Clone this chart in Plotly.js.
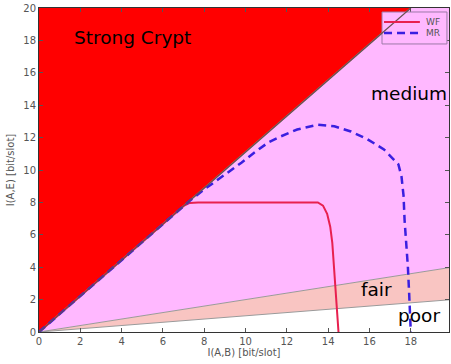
<!DOCTYPE html>
<html>
<head>
<meta charset="utf-8">
<script src="https://cdn.plot.ly/plotly-3.0.1.min.js"></script>
<style>
  html, body { margin: 0; padding: 0; background: #ffffff; }
  #chart { width: 451px; height: 364px; }
</style>
</head>
<body>
<div id="chart"></div>
<script>
// Secrecy regions in the I(A,B) / I(A,E) plane (polygon vertices)
const strongX = [0, 18, 0];
const strongY = [0, 20, 20];
const mediumX = [0, 18, 20, 20, 0];
const mediumY = [0, 20, 20, 4, 0];
const fairX = [0, 20, 20, 0];
const fairY = [0, 4, 2, 0];

// Region boundary lines
const diagX = [0, 18];
const diagY = [0, 20];
const fairUpperX = [0, 20];
const fairUpperY = [0, 4];
const fairLowerX = [0, 20];
const fairLowerY = [0, 2];

// WF curve
const wfX = [0, 7.0, 7.3, 7.7, 13.5, 13.75, 13.95, 14.1, 14.2, 14.5];
const wfY = [0, 7.78, 7.97, 8.0, 8.0, 7.8, 7.3, 6.5, 5.5, 0];

// MR curve
const mrX = [0, 7.3, 8.0, 8.9, 9.8, 10.4, 11.1, 11.7, 12.5, 13.5, 14.3, 15.1, 15.9, 16.7, 17.4, 17.55, 17.65, 17.7, 17.78, 17.86, 17.92, 18.0];
const mrY = [0, 8.1, 8.8, 9.6, 10.45, 11.05, 11.7, 12.07, 12.5, 12.8, 12.7, 12.38, 11.9, 11.27, 10.35, 9.6, 8.4, 6.9, 5.5, 4.0, 2.4, 0];

// Region labels
const labelText = ['Strong Crypt', 'medium', 'fair', 'poor'];
const labelX = [4.55, 17.9, 16.35, 18.4];
const labelY = [18.2, 14.7, 2.6, 1.0];

// Legend entries
const legendNames = ['WF', 'MR'];

const tickVals = [0, 2, 4, 6, 8, 10, 12, 14, 16, 18, 20];

const RED = '#ff0000';
const PINK = '#ffb8ff';
const SALMON = '#f9c5c2';
const EDGE = '#9a9a9a';
const WF_COLOR = '#e8204f';
const MR_COLOR = '#3a1fe0';
const FONT = 'DejaVu Sans, sans-serif';

const wfLine = { color: WF_COLOR, width: 2 };
const mrLine = { color: MR_COLOR, width: 2.5, dash: '8px,5px' };

const traces = [
  { x: mediumX, y: mediumY, type: 'scatter', mode: 'lines', fill: 'toself',
    fillcolor: PINK, line: { width: 0 }, hoverinfo: 'skip' },
  { x: fairX, y: fairY, type: 'scatter', mode: 'lines', fill: 'toself',
    fillcolor: SALMON, line: { width: 0 }, hoverinfo: 'skip' },
  { x: strongX, y: strongY, type: 'scatter', mode: 'lines', fill: 'toself',
    fillcolor: RED, line: { width: 0 }, hoverinfo: 'skip' },
  { x: diagX, y: diagY, type: 'scatter', mode: 'lines',
    line: { color: '#a08080', width: 1.5 }, hoverinfo: 'skip' },
  { x: fairUpperX, y: fairUpperY, type: 'scatter', mode: 'lines',
    line: { color: EDGE, width: 1 }, hoverinfo: 'skip' },
  { x: fairLowerX, y: fairLowerY, type: 'scatter', mode: 'lines',
    line: { color: EDGE, width: 1 }, hoverinfo: 'skip' },
  { x: wfX, y: wfY, type: 'scatter', mode: 'lines', name: legendNames[0], line: wfLine },
  { x: mrX, y: mrY, type: 'scatter', mode: 'lines', name: legendNames[1], line: mrLine }
];

const annotations = labelText.map((t, i) => ({
  x: labelX[i], y: labelY[i], xref: 'x', yref: 'y', text: t, showarrow: false,
  font: { family: FONT, size: 18.5, color: '#000000' }
}));

// Compact legend box drawn in paper coordinates
const legBox = { x0: 0.8366, x1: 0.995, y0: 0.889, y1: 0.9877 };
const legRowY = [0.9568, 0.9228];
const legLineX = [0.8415, 0.929];
const legTextX = 0.939;
const legLines = [wfLine, mrLine];

const shapes = [
  { type: 'rect', xref: 'paper', yref: 'paper', layer: 'above',
    x0: legBox.x0, x1: legBox.x1, y0: legBox.y0, y1: legBox.y1,
    fillcolor: PINK, line: { color: '#9c7aa8', width: 1 } },
  // boundary line stays visible across the legend box
  { type: 'line', xref: 'x', yref: 'y', layer: 'above',
    x0: diagX[0], y0: diagY[0], x1: diagX[1], y1: diagY[1],
    line: { color: '#6a5050', width: 1.2 } }
];
legendNames.forEach((n, i) => {
  shapes.push({ type: 'line', xref: 'paper', yref: 'paper', layer: 'above',
    x0: legLineX[0], x1: legLineX[1], y0: legRowY[i], y1: legRowY[i],
    line: legLines[i] });
  annotations.push({ xref: 'paper', yref: 'paper', x: legTextX, y: legRowY[i],
    xanchor: 'left', yanchor: 'middle', text: n, showarrow: false,
    font: { family: FONT, size: 9, color: '#555555' } });
});

const axisCommon = {
  showgrid: false, zeroline: false, showline: true, linecolor: '#333333', linewidth: 1,
  mirror: 'ticks', ticks: 'inside', ticklen: 4, tickcolor: '#555555',
  tickfont: { family: FONT, size: 10, color: '#555555' },
  tickvals: tickVals
};

const layout = {
  width: 451, height: 364,
  margin: { l: 39, r: 2, t: 8, b: 32 },
  paper_bgcolor: '#ffffff', plot_bgcolor: '#ffffff',
  showlegend: false,
  xaxis: Object.assign({}, axisCommon, {
    range: [0, 19.85],
    title: { text: 'I(A,B) [bit/slot]', standoff: 2,
      font: { family: FONT, size: 10, color: '#555555' } }
  }),
  yaxis: Object.assign({}, axisCommon, {
    range: [0, 20],
    title: { text: 'I(A,E) [bit/slot]', standoff: 6,
      font: { family: FONT, size: 10, color: '#555555' } }
  }),
  annotations: annotations,
  shapes: shapes
};

Plotly.newPlot('chart', traces, layout, { displayModeBar: false, staticPlot: true });
</script>
</body>
</html>
